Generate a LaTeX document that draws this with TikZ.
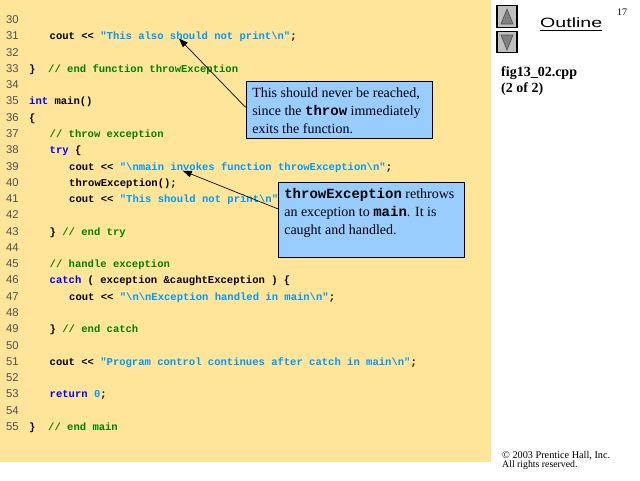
\documentclass[tikz,border=0pt]{standalone}
\usepackage{graphicx}
\usepackage{fontspec}
\setmainfont{Liberation Serif}
\setsansfont{Liberation Sans}
\setmonofont{Liberation Mono}
\usetikzlibrary{shapes, positioning, arrows, arrows.meta, fit}

\definecolor{slideyellow}{RGB}{255,229,153}
\definecolor{calloutblue}{RGB}{153,204,255}
\definecolor{kwblue}{RGB}{0,0,255}
\definecolor{strblue}{RGB}{0,153,255}
\definecolor{cmtgreen}{RGB}{0,128,0}
\definecolor{linegray}{RGB}{80,80,80}

\newcommand{\kw}[1]{\textcolor{kwblue}{#1}}
\newcommand{\strlit}[1]{\textcolor{strblue}{#1}}
\newcommand{\cmt}[1]{\textcolor{cmtgreen}{#1}}
\newcommand{\bsl}{\textbackslash}

\begin{document}
\begin{tikzpicture}[
    x=1pt, y=-1pt,
    lineno/.style={anchor=base west, inner sep=0pt, text=linegray,
      font=\sffamily\fontsize{11.3}{12}\selectfont},
    code/.style={anchor=base west, inner sep=0pt,
      font=\ttfamily\bfseries\fontsize{10.55}{12}\selectfont},
    callout/.style={draw=black, line width=1.2pt, fill=calloutblue,
      anchor=north west, inner xsep=6pt, inner ysep=3.5pt,
      font=\fontsize{14}{18}\selectfont},
    pointer/.style={-{Triangle[length=9pt,width=6.5pt]}, line width=0.7pt},
    navbtn/.style={fill=gray!50, draw=black, line width=1.5pt},
    navarrow/.style={fill=gray, draw=gray!60!black, line width=0.6pt}
  ]
  \useasboundingbox (0,0) rectangle (640,480);
  \fill[white] (0,0) rectangle (640,480);
  \fill[slideyellow] (0,0) rectangle (491,462);

  % line numbers
  \foreach \n in {30,...,55}
    \node[lineno] (ln\n) at (6, {23.5+(\n-30)*16.28}) {\n};

  % indentation levels
  \coordinate (ind0) at (29,0);
  \coordinate (ind1) at (49.5,0);
  \coordinate (ind2) at (69,0);

  % source code
  \node[code] (c31) at (ln31.base -| ind1) {cout <{}< \strlit{"This also should not print\bsl n"};};
  \node[code] (c33) at (ln33.base -| ind0) {\}\ \ \cmt{// end function throwException}};
  \node[code] (c35) at (ln35.base -| ind0) {\kw{int} main()};
  \node[code] (c36) at (ln36.base -| ind0) {\{};
  \node[code] (c37) at (ln37.base -| ind1) {\cmt{// throw exception}};
  \node[code] (c38) at (ln38.base -| ind1) {\kw{try} \{};
  \node[code] (c39) at (ln39.base -| ind2) {cout <{}< \strlit{"\bsl nmain invokes function throwException\bsl n"};};
  \node[code] (c40) at (ln40.base -| ind2) {throwException();};
  \node[code] (c41) at (ln41.base -| ind2) {cout <{}< \strlit{"This should not print\bsl n"};};
  \node[code] (c43) at (ln43.base -| ind1) {\} \cmt{// end try}};
  \node[code] (c45) at (ln45.base -| ind1) {\cmt{// handle exception}};
  \node[code] (c46) at (ln46.base -| ind1) {\kw{catch} ( exception \&caughtException ) \{};
  \node[code] (c47) at (ln47.base -| ind2) {cout <{}< \strlit{"\bsl n\bsl nException handled in main\bsl n"};};
  \node[code] (c49) at (ln49.base -| ind1) {\} \cmt{// end catch}};
  \node[code] (c51) at (ln51.base -| ind1) {cout <{}< \strlit{"Program control continues after catch in main\bsl n"};};
  \node[code] (c53) at (ln53.base -| ind1) {\kw{return} \strlit{0};};
  \node[code] (c55) at (ln55.base -| ind0) {\}\ \ \cmt{// end main}};

  % callouts
  \node[callout] (unreached) at (245.7,80.7) {\parbox[t][50.3pt][t]{174pt}{\strut This should never be reached,\\
    since the {\ttfamily\bfseries throw} immediately\\
    exits the function.}};
  \node[callout] (rethrown) at (277.7,181.7) {\parbox[t][68pt][t]{174pt}{\strut {\ttfamily\bfseries throwException} rethrows\\
    an exception to {\ttfamily\bfseries main}. It is\\
    caught and handled.}};

  \coordinate (shouldtip) at (179,38.5);
  \coordinate (invokestip) at (182.7,170.7);
  \draw[pointer] ([yshift=2.5pt]unreached.west) -- (shouldtip);
  \draw[pointer] ([yshift=11pt]rethrown.west) -- (invokestip);

  % outline panel
  \draw[navbtn] (497,5.7) rectangle (517,27.3);
  \draw[navarrow] (507,9) -- (513,24) -- (501,24) -- cycle;
  \draw[navbtn] (497,31.7) rectangle (517,52.7);
  \draw[navarrow] (501,35) -- (513,35) -- (507,50) -- cycle;

  \node[anchor=base west, inner sep=0pt] (outline) at (540,27.7)
    {\sffamily\fontsize{13.5}{14}\selectfont\scalebox{1.45}[1]{Outline}};
  \draw[line width=0.8pt] ([yshift=-2.3pt]outline.south west) -- ([yshift=-2.3pt]outline.south east);
  \node[font=\fontsize{10}{12}\selectfont] (pagenum) at (622,12.5) {17};

  \node[anchor=base west, inner sep=0pt, font=\bfseries\fontsize{14}{17}\selectfont] (figname) at (501,76) {fig13\_02.cpp};
  \node[anchor=base west, inner sep=0pt, font=\bfseries\fontsize{14}{17}\selectfont] (figpart) at (501,92.5) {(2 of 2)};

  \node[anchor=base west, inner sep=0pt, font=\fontsize{10.25}{11}\selectfont] (copyr) at (502,458.3) {\textcopyright\ 2003 Prentice Hall, Inc.};
  \node[anchor=base west, inner sep=0pt, font=\fontsize{9.8}{11}\selectfont] (rights) at (502,467.5) {All rights reserved.};
\end{tikzpicture}
\end{document}
